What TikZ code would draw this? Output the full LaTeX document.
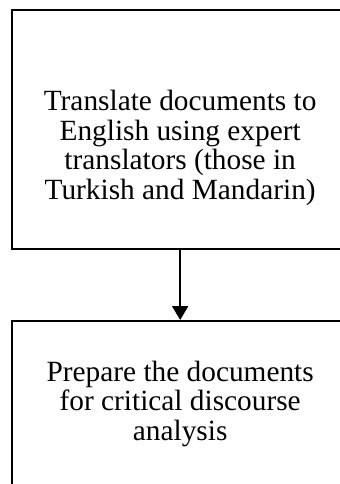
\documentclass[tikz,border=0pt]{standalone}
\usepackage{fontspec}
\setmainfont{Liberation Serif}
\usetikzlibrary{positioning,arrows.meta}
\begin{document}
\begin{tikzpicture}[>={Triangle[length=10.5pt,width=12pt]},x=0.75pt,y=-0.75pt,
	stepbox/.style={draw,line width=1.5pt,minimum width=253pt,anchor=north west,inner sep=0pt},
	steptext/.style={align=center,font=\fontsize{22}{22.2}\selectfont}]
	\useasboundingbox (0,0) rectangle (339,484);
	% the two steps
	\node[stepbox,minimum height=178.9pt] (translate) at (10.5,9.5) {};
	\node[stepbox,minimum height=135pt] (prepare) at (10.5,320) {};
	\node[steptext,yshift=-13.5pt] (translatetext) at (translate.center) {Translate documents to\\English using expert\\translators (those in\\Turkish and Mandarin)};
	\node[steptext,below=27pt of prepare.north] (preparetext) {Prepare the documents\\for critical discourse\\analysis};
	\draw[->,line width=1.5pt] (translate.south) -- (prepare.north);
\end{tikzpicture}
\end{document}
